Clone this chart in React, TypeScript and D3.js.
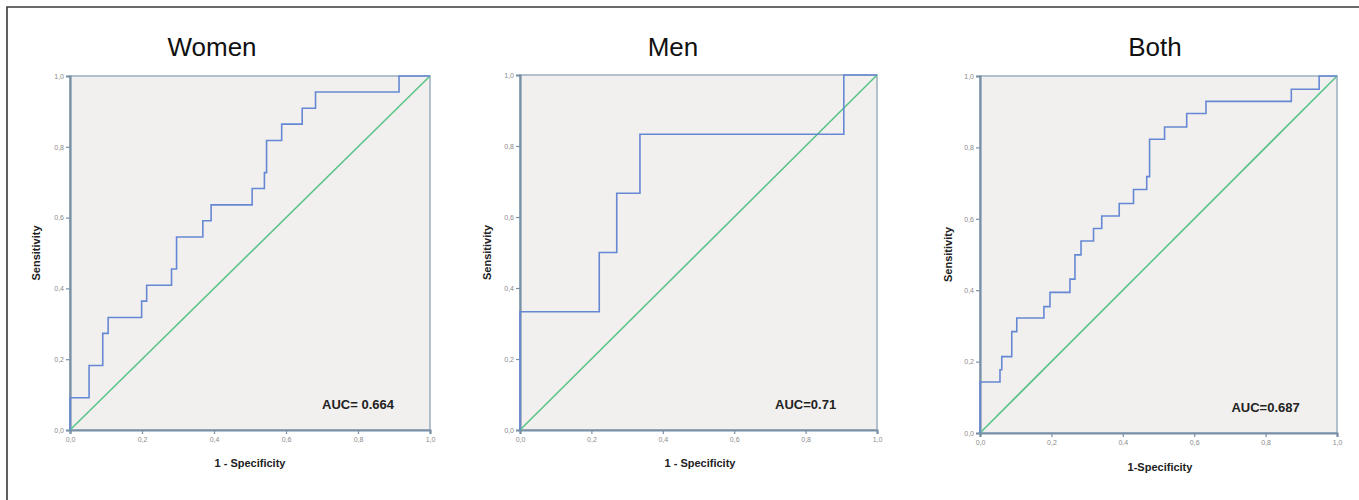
import React, { useEffect, useRef } from 'react';
import * as d3 from 'd3';

// ROC vertices: x where the curve rises, level it rises to (step-after)
const womenFpr = [0, 0, 0.053, 0.091, 0.106, 0.199, 0.213, 0.282, 0.296, 0.369, 0.392, 0.506, 0.54, 0.546, 0.588, 0.645, 0.682, 0.914, 1];
const womenTpr = [0, 0.091, 0.182, 0.273, 0.318, 0.364, 0.409, 0.455, 0.545, 0.591, 0.636, 0.682, 0.727, 0.818, 0.864, 0.909, 0.955, 1, 1];

const menFpr = [0, 0, 0.222, 0.271, 0.336, 0.907, 1];
const menTpr = [0, 0.333, 0.5, 0.667, 0.833, 1, 1];

const bothFpr = [0, 0, 0.056, 0.061, 0.089, 0.103, 0.179, 0.196, 0.252, 0.266, 0.283, 0.318, 0.341, 0.39, 0.43, 0.467, 0.475, 0.517, 0.579, 0.633, 0.872, 0.95, 1];
const bothTpr = [0, 0.143, 0.177, 0.214, 0.284, 0.322, 0.354, 0.394, 0.431, 0.499, 0.538, 0.573, 0.608, 0.643, 0.682, 0.718, 0.823, 0.857, 0.895, 0.929, 0.963, 1, 1];

const titles = ['Women', 'Men', 'Both'];
const aucLabels = ['AUC= 0.664', 'AUC=0.71', 'AUC=0.687'];
const xLabels = ['1 - Specificity', '1 - Specificity', '1-Specificity'];
const tickValues = [0, 0.2, 0.4, 0.6, 0.8, 1.0];
const tickLabels = ['0,0', '0,2', '0,4', '0,6', '0,8', '1,0'];

function App() {
  const ref = useRef<SVGSVGElement>(null);

  useEffect(() => {
    const svg = d3.select(ref.current);
    svg.selectAll('*').remove();

    // outer frame (top + left only visible)
    svg.append('path')
      .attr('d', 'M7,500 L7,7 L1359,7')
      .attr('fill', 'none')
      .attr('stroke', '#3a3a3a')
      .attr('stroke-width', 1.6);

    const panels = [
      { fpr: womenFpr, tpr: womenTpr, left: 70, right: 430, top: 76, bottom: 430, titleX: 212, yLabX: 36, xLabX: 250, xLabY: 467 },
      { fpr: menFpr, tpr: menTpr, left: 520, right: 877, top: 75, bottom: 430, titleX: 673, yLabX: 487, xLabX: 700, xLabY: 467 },
      { fpr: bothFpr, tpr: bothTpr, left: 980, right: 1337, top: 76, bottom: 433, titleX: 1155, yLabX: 948, xLabX: 1160, xLabY: 471 },
    ];

    panels.forEach((p, i) => {
      const x = d3.scaleLinear().domain([0, 1]).range([p.left, p.right]);
      const y = d3.scaleLinear().domain([0, 1]).range([p.bottom, p.top]);
      const g = svg.append('g');

      // title
      g.append('text')
        .attr('x', p.titleX)
        .attr('y', 56)
        .attr('text-anchor', 'middle')
        .attr('font-family', 'Liberation Sans, Arial, sans-serif')
        .attr('font-size', 26)
        .attr('fill', '#111')
        .text(titles[i]);

      // plot background and frame
      g.append('rect')
        .attr('x', x(0))
        .attr('y', y(1))
        .attr('width', x(1) - x(0))
        .attr('height', y(0) - y(1))
        .attr('fill', '#f1f0ef')
        .attr('stroke', '#9aafc0')
        .attr('stroke-width', 1.5);

      // axes
      const xAxis = g.append('g')
        .attr('transform', `translate(0,${p.bottom})`)
        .call(d3.axisBottom(x).tickValues(tickValues).tickFormat((d, k) => tickLabels[k]).tickSize(4).tickPadding(3));
      const yAxis = g.append('g')
        .attr('transform', `translate(${p.left},0)`)
        .call(d3.axisLeft(y).tickValues(tickValues).tickFormat((d, k) => tickLabels[k]).tickSize(4).tickPadding(2));
      [xAxis, yAxis].forEach(a => {
        a.select('.domain').attr('stroke', '#7890a6').attr('stroke-width', 2.2);
        a.selectAll('.tick line').attr('stroke', '#7890a6').attr('stroke-width', 1.2);
        a.selectAll('.tick text')
          .attr('fill', '#8a8a8a')
          .attr('font-size', 7)
          .attr('font-family', 'Liberation Sans, Arial, sans-serif');
      });

      // reference diagonal
      g.append('line')
        .attr('x1', x(0)).attr('y1', y(0))
        .attr('x2', x(1)).attr('y2', y(1))
        .attr('stroke', '#5cc48a')
        .attr('stroke-width', 1.6);

      // ROC curve
      const pts = p.fpr.map((v, k) => [v, p.tpr[k]] as [number, number]);
      const line = d3.line<[number, number]>()
        .x(d => x(d[0]))
        .y(d => y(d[1]))
        .curve(d3.curveStepAfter);
      g.append('path')
        .datum(pts)
        .attr('fill', 'none')
        .attr('stroke', '#6688d4')
        .attr('stroke-width', 1.6)
        .attr('d', line);

      // AUC
      g.append('text')
        .attr('x', x(0.8))
        .attr('y', y(0.06))
        .attr('text-anchor', 'middle')
        .attr('font-family', 'Liberation Sans, Arial, sans-serif')
        .attr('font-weight', 'bold')
        .attr('font-size', 13)
        .attr('fill', '#222')
        .text(aucLabels[i]);

      // axis titles
      g.append('text')
        .attr('x', p.xLabX)
        .attr('y', p.xLabY)
        .attr('text-anchor', 'middle')
        .attr('font-family', 'Liberation Sans, Arial, sans-serif')
        .attr('font-weight', 'bold')
        .attr('font-size', 11)
        .attr('fill', '#222')
        .text(xLabels[i]);
      g.append('text')
        .attr('transform', `translate(${p.yLabX + 4},${(p.top + p.bottom) / 2}) rotate(-90)`)
        .attr('text-anchor', 'middle')
        .attr('font-family', 'Liberation Sans, Arial, sans-serif')
        .attr('font-weight', 'bold')
        .attr('font-size', 11)
        .attr('fill', '#222')
        .text('Sensitivity');
    });
  }, []);

  return (
    <svg ref={ref} width={1359} height={500} style={{ position: 'absolute', left: 0, top: 0, background: '#fff' }}></svg>
  );
}

export default App;
